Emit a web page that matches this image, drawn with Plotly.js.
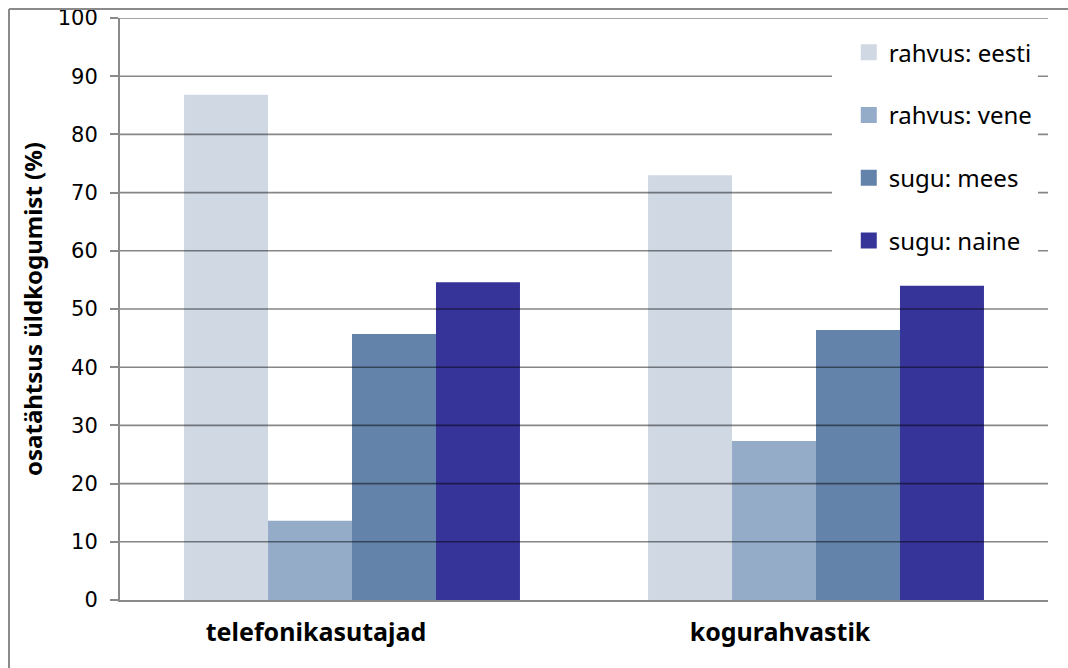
<!DOCTYPE html>
<html>
<head>
<meta charset="utf-8">
<script src="https://cdn.plot.ly/plotly-3.0.1.min.js"></script>
<style>
html,body{margin:0;padding:0;background:#fff;}
#chart{width:1068px;height:668px;}
</style>
</head>
<body>
<div id="chart"></div>
<script>
const categories = ["telefonikasutajad", "kogurahvastik"];
const seriesNames = ["rahvus: eesti", "rahvus: vene", "sugu: mees", "sugu: naine"];
const eesti = [86.8, 73.0];
const vene = [13.6, 27.3];
const mees = [45.7, 46.4];
const naine = [54.6, 54.0];
const colors = ["#D0D8E4", "#95ACC8", "#6383AA", "#363498"];
const yTicks = [0, 10, 20, 30, 40, 50, 60, 70, 80, 90, 100];

const values = [eesti, vene, mees, naine];
const traces = values.map((v, i) => ({
  type: "bar",
  name: seriesNames[i],
  x: categories,
  y: v,
  marker: {color: colors[i], line: {width: 0}},
  legendgroup: "g" + i,
  hoverinfo: "x+y+name"
}));

const calibri = "'Noto Sans', 'Liberation Sans', sans-serif";

const gridShapes = yTicks.filter(t => t > 0).map(t => ({
  type: "line", xref: "paper", yref: "y", x0: 0, x1: 1, y0: t, y1: t,
  layer: "above", line: {color: "rgba(0,0,0,0.47)", width: 1.6}
}));

const frameShapes = [
  {type: "line", xref: "paper", yref: "paper", x0: -0.1196, x1: -0.1196, y0: 1.0155, y1: -0.2, line: {color: "#8a8a8a", width: 2}},
  {type: "line", xref: "paper", yref: "paper", x0: -0.1196, x1: 1.05, y0: 1.0155, y1: 1.0155, line: {color: "#8a8a8a", width: 2}}
];

const layout = {
  width: 1068, height: 668,
  margin: {l: 120, r: 20, t: 18, b: 68},
  paper_bgcolor: "#fff", plot_bgcolor: "#fff",
  barmode: "group", bargap: 0.276, bargroupgap: 0,
  showlegend: true,
  legend: {
    x: 0.767, y: 0.979, xanchor: "left", yanchor: "top",
    bgcolor: "#fff", borderwidth: 0,
    font: {family: calibri, size: 24, color: "#000"},
    traceorder: "grouped", tracegroupgap: 28.5, indentation: 17
  },
  xaxis: {
    showgrid: false, zeroline: false,
    showline: true, linecolor: "#8a8a8a", linewidth: 2,
    ticks: "", ticklabelstandoff: 9, ticklabelshift: -36,
    tickfont: {family: calibri, size: 25, color: "#000", weight: "bold"},
    fixedrange: true
  },
  yaxis: {
    range: [0, 100], tickvals: yTicks, showgrid: false, zeroline: false,
    showline: true, linecolor: "#8a8a8a", linewidth: 2,
    ticks: "outside", ticklen: 8, tickcolor: "#8a8a8a", tickwidth: 1.5,
    ticklabelstandoff: 8,
    tickfont: {family: "'DejaVu Sans', Verdana, sans-serif", size: 21, color: "#000"},
    title: {text: "osatähtsus üldkogumist (%)", standoff: 8,
            font: {family: calibri, size: 24, color: "#000", weight: "bold"}},
    fixedrange: true
  },
  shapes: gridShapes.concat(frameShapes)
};

Plotly.newPlot("chart", traces, layout, {displayModeBar: false}).then(gd => {
  gd.querySelectorAll(".legendpoints path").forEach(p => {
    p.setAttribute("d", "M8,8H-8V-8H8Z");
  });
});
</script>
</body>
</html>
